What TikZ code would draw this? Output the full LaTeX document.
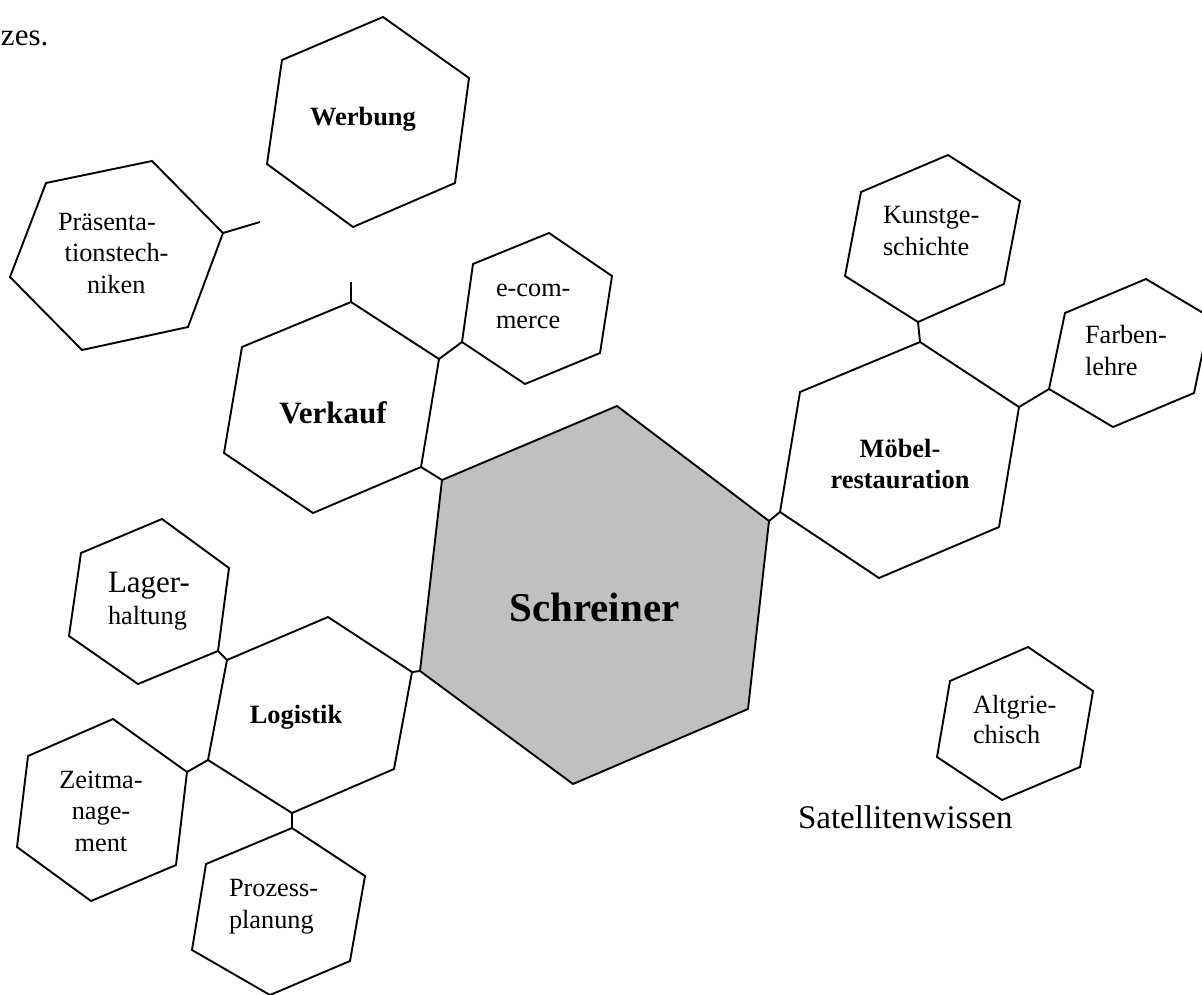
\documentclass[tikz,border=0pt]{standalone}
\usepackage{fontspec}
\setmainfont{Liberation Serif}
\definecolor{centerfill}{RGB}{192,192,192}
\tikzset{
  hexline/.style={draw=black, line width=1.9pt, line join=miter},
  conn/.style={draw=black, line width=1.9pt},
  txt/.style={inner sep=0pt, outer sep=0pt, font=\fontsize{26.3}{31.3}\selectfont},
  txtb/.style={inner sep=0pt, outer sep=0pt, font=\bfseries\fontsize{26.4}{31}\selectfont},
}
\newcommand\hexa[8][]{%
  \coordinate (#2-1) at (#3);
  \coordinate (#2-2) at (#4);
  \coordinate (#2-3) at (#5);
  \coordinate (#2-4) at (#6);
  \coordinate (#2-5) at (#7);
  \coordinate (#2-6) at (#8);
  \path[hexline,#1] (#2-1)--(#2-2)--(#2-3)--(#2-4)--(#2-5)--(#2-6)--cycle;}
\begin{document}
\begin{tikzpicture}[x=1pt,y=-1pt]
\useasboundingbox (0,0) rectangle (1202,994);
\clip (0,0) rectangle (1202,994);
% hexagons
\hexa{W}{383,17}{469,78}{455,183}{353,227}{267,164}{282,60}
\hexa{PR}{152,161}{223,233}{188,327}{82,350}{10,277}{46,183}
\hexa{V}{351,302}{439,359}{421,467}{313,513}{224,453}{242,347}
\hexa{E}{549,233}{612,276}{600,353}{525,384}{462,342}{473,264}
\hexa[fill=centerfill]{S}{617,406}{769,521}{748,709}{573,784}{420,671}{442,480}
\hexa{K}{948,155}{1020,201}{1004,284}{918,322}{845,276}{861,192}
\hexa{M}{920,342}{1019,407}{999,527}{879,578}{780,512}{800,392}
\hexa{F}{1146,279}{1210,317}{1194,393}{1113,427}{1049,389}{1065,313}
\hexa{LH}{162,519}{229,568}{218,651}{138,684}{69,636}{81,553}
\hexa{L}{328,617}{412,672}{394,769}{292,813}{208,760}{227,660}
\hexa{Z}{113,719}{187,772}{176,865}{91,901}{17,847}{28,756}
\hexa{P}{292,828}{365,876}{350,961}{270,995}{192,950}{206,864}
\hexa{A}{1028,647}{1093,691}{1080,767}{1002,800}{937,757}{950,681}
% free ends
\coordinate (prEnd) at (260,222);
\coordinate (vEnd) at (351,282);
% connectors
\draw[conn] (PR-2) -- (prEnd);
\draw[conn] (V-1) -- (vEnd);
\draw[conn] (V-2) -- (E-5);
\draw[conn] (V-3) -- (S-6);
\draw[conn] (L-2) -- (S-5);
\draw[conn] (L-6) -- (LH-3);
\draw[conn] (L-5) -- (Z-2);
\draw[conn] (L-4) -- (P-1);
\draw[conn] (S-2) -- (M-5);
\draw[conn] (M-1) -- (K-4);
\draw[conn] (M-2) -- (F-5);
% texts (base anchor of a multi-line node = baseline of its last line)
\node[txt, font=\fontsize{31}{36}\selectfont, anchor=base west] (tZes) at (1,45) {zes.};
\node[txtb, anchor=base] (tWerbung) at (363,125) {Werbung};
\node[txt, anchor=base west, align=left] (tPraes) at (58,293) {Präsenta-\\\hspace*{6.7pt}tionstech-\\\hspace*{29pt}niken};
\node[txtb, font=\bfseries\fontsize{31}{36}\selectfont, anchor=base] (tVerkauf) at (333,423) {Verkauf};
\node[txt, anchor=base west, align=left] (tEcom) at (496,328) {e-com-\\merce};
\node[txt, anchor=base west, align=left] (tKunst) at (883,255) {Kunstge-\\schichte};
\node[txt, anchor=base west, align=left] (tFarben) at (1085,375) {Farben-\\lehre};
\node[txtb, align=center, anchor=base] (tMoebel) at (900,488) {Möbel-\\restauration};
\node[txt, anchor=base west, align=left] (tLager) at (108,624) {{\fontsize{31}{31}\selectfont Lager-}\\haltung};
\node[txtb, anchor=base] (tLog) at (296,723) {Logistik};
\node[txt, align=center, anchor=base] (tZeit) at (101,851) {Zeitma-\\nage-\\ment};
\node[txt, anchor=base west, align=left] (tProz) at (229,928) {Prozess-\\planung};
\node[txt, font=\fontsize{26.3}{29.7}\selectfont, anchor=base west, align=left] (tAlt) at (973,743) {Altgrie-\\chisch};
\node[txt, font=\fontsize{33}{38}\selectfont, anchor=base west] (tSat) at (798,828) {Satellitenwissen};
\node[txtb, font=\bfseries\fontsize{41}{48}\selectfont, anchor=base] (tSchr) at (594.5,621) {Schreiner};
\end{tikzpicture}
\end{document}
